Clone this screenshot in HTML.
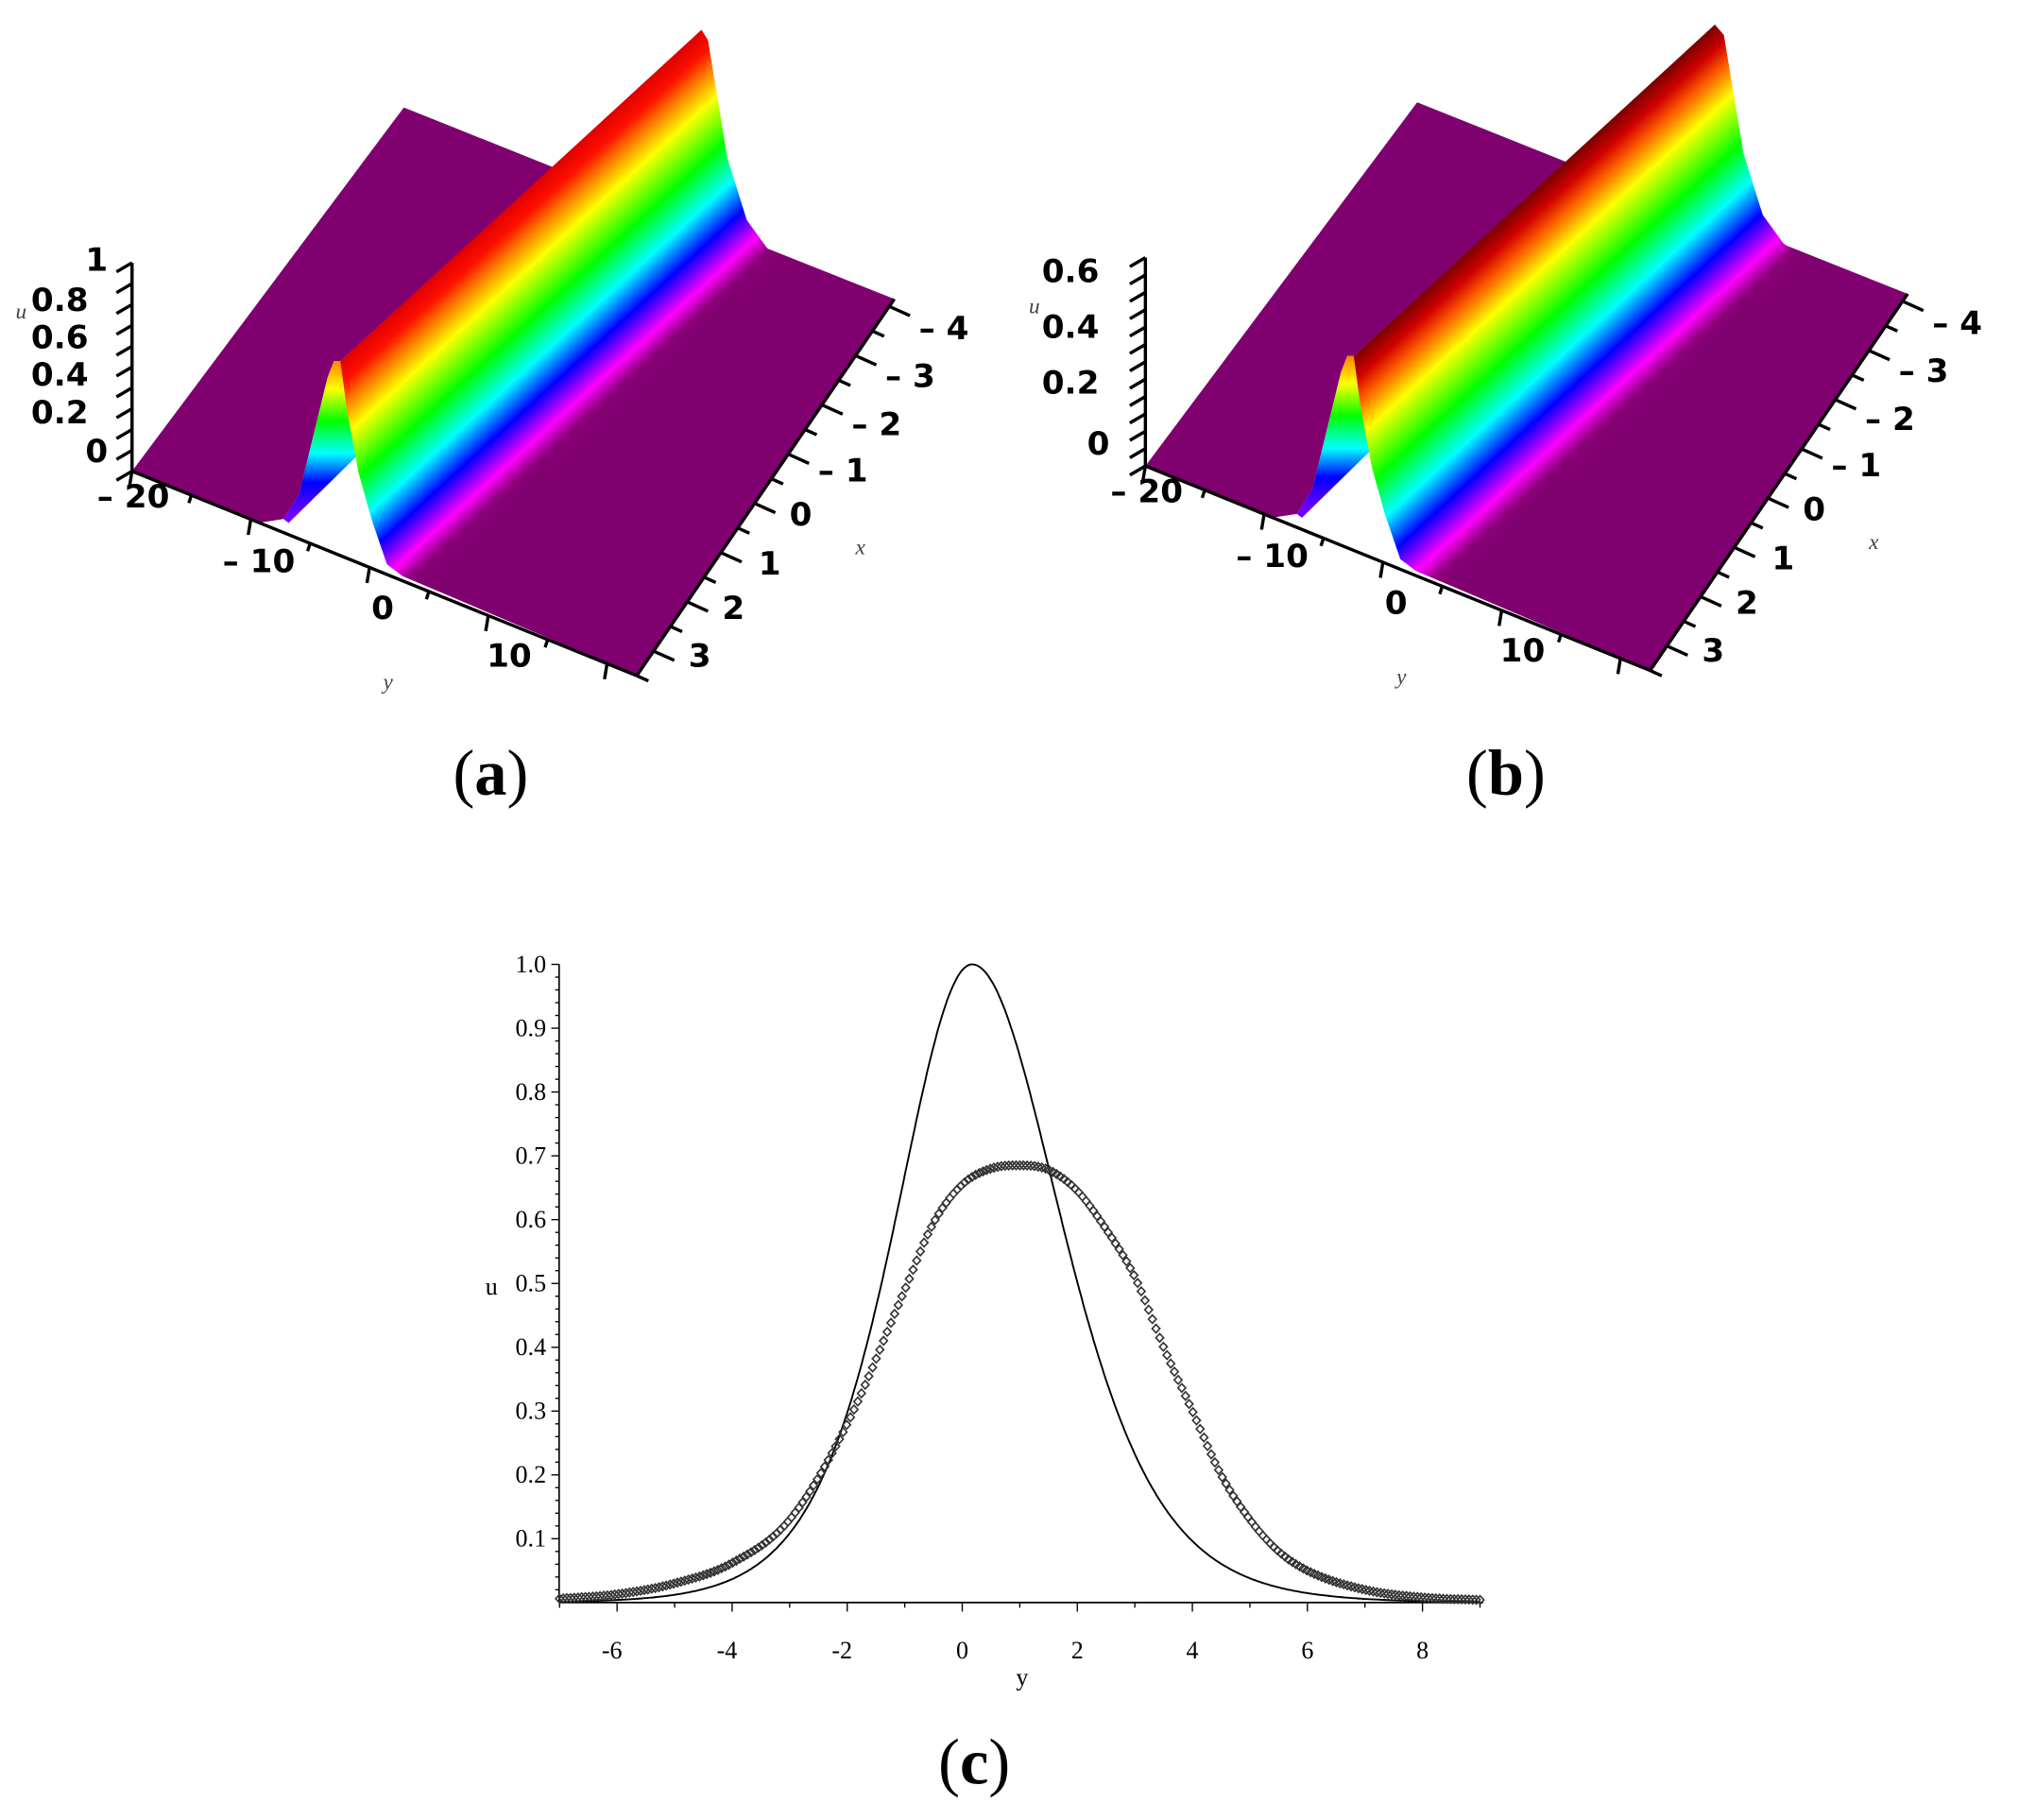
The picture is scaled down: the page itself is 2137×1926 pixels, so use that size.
<!DOCTYPE html>
<html><head><meta charset="utf-8">
<style>
html,body{margin:0;padding:0;background:#fff;}
svg{display:block;}
.tk{font-family:"DejaVu Sans","Liberation Sans",sans-serif;font-weight:bold;font-size:25px;fill:#000;}
.it{font-family:"Liberation Serif",serif;font-style:italic;font-size:17px;fill:#444;}
.cap{font-family:"Liberation Serif",serif;font-size:50px;fill:#000;}
.tm{font-family:"Liberation Serif",serif;font-size:19px;fill:#000;}
</style></head>
<body>
<svg id="s" width="2137" height="1926" viewBox="0 0 1560 1406" xmlns="http://www.w3.org/2000/svg">
<defs>
<linearGradient id="ga" gradientUnits="userSpaceOnUse" x1="263" y1="279" x2="379" y2="406">
<stop offset="0" stop-color="#e00000"/><stop offset="0.08" stop-color="#ff1000"/>
<stop offset="0.16" stop-color="#ff8000"/><stop offset="0.26" stop-color="#ffff00"/>
<stop offset="0.44" stop-color="#00ff00"/><stop offset="0.59" stop-color="#00ffff"/>
<stop offset="0.72" stop-color="#0000ff"/><stop offset="0.85" stop-color="#ff00ff"/>
<stop offset="0.93" stop-color="#8a0078"/><stop offset="1" stop-color="#800070"/>
</linearGradient>
<linearGradient id="gb" gradientUnits="userSpaceOnUse" x1="263" y1="279" x2="385" y2="412">
<stop offset="0" stop-color="#7a0000"/><stop offset="0.08" stop-color="#d00000"/>
<stop offset="0.16" stop-color="#ff6000"/><stop offset="0.27" stop-color="#ffff00"/>
<stop offset="0.45" stop-color="#00ff00"/><stop offset="0.6" stop-color="#00ffff"/>
<stop offset="0.73" stop-color="#0000ff"/><stop offset="0.86" stop-color="#ff00ff"/>
<stop offset="0.94" stop-color="#8a0078"/><stop offset="1" stop-color="#800070"/>
</linearGradient>
<linearGradient id="gl" gradientUnits="userSpaceOnUse" x1="0" y1="279" x2="0" y2="404">
<stop offset="0" stop-color="#ff8000"/><stop offset="0.17" stop-color="#ffff00"/>
<stop offset="0.37" stop-color="#00ff00"/><stop offset="0.57" stop-color="#00ffff"/>
<stop offset="0.75" stop-color="#0000ff"/><stop offset="0.95" stop-color="#7000ff"/>
</linearGradient>
<g id="surf">
<polygon fill="#800070" points="312,83 427,129 263,279 258,279 253,292 243,333 231,382 219,401 199.5,404 102,364"/>
<polygon fill="url(#gl)" points="258,279 263,279 268,300 275,353 223,404 219,401 231,382 243,333 253,292"/>
<polygon fill="#800070" points="311,445 492,522 691,231 593,192"/>
</g>
</defs>

<g>
<use href="#surf"/>
<polygon fill="url(#ga)" points="263,279 542,23 547,31 562,122 577,170 593,192 620,210 400,482 311,445 299,436 287,401 277,365 268,316"/>
</g>
<g transform="translate(783,-4)">
<use href="#surf"/>
<polygon fill="url(#gb)" points="263,279 542,23 549,31 564,122 579,170 595,192 620,210 400,482 311,445 299,436 287,401 277,365 268,316"/>
</g>

<g id="axes" stroke="#000" stroke-width="2.5" fill="none"></g>
<g id="lab"></g>

<text class="cap" x="350" y="614">(<tspan font-weight="bold">a</tspan>)</text>
<text class="cap" x="1133" y="614">(<tspan font-weight="bold">b</tspan>)</text>
<text class="cap" x="725" y="1378">(<tspan font-weight="bold">c</tspan>)</text>

<g id="pc"></g>
</svg>
<script>
const NS="http://www.w3.org/2000/svg";
function el(p,t,a,txt){const e=document.createElementNS(NS,t);for(const k in a)e.setAttribute(k,a[k]);if(txt!=null)e.textContent=txt;p.appendChild(e);return e;}
const ax=document.getElementById('axes'), lab=document.getElementById('lab');
function axes3d(dx,dy,zl,zmax){
  el(ax,'line',{x1:102+dx,y1:364+dy,x2:102+dx,y2:203+dy});
  const n=Math.round(zmax*10);
  for(let i=0;i<=n*(zmax<0.7?2:1);i++){
    const f=i/(n*(zmax<0.7?2:1)); const y=364+dy-f*161;
    el(ax,'line',{x1:102+dx,y1:y,x2:90+dx,y2:y+7,'stroke-width':2.5});
  }
  el(ax,'line',{x1:102+dx,y1:364+dy,x2:492+dx,y2:522+dy});
  for(let i=0;i<=8;i++){const t=i/8.5;const x=102+dx+t*390,y=364+dy+t*158;
    el(ax,'line',{x1:x,y1:y,x2:x-2,y2:y+(i%2==0?12:6)});}
  el(ax,'line',{x1:492+dx,y1:522+dy,x2:691+dx,y2:231+dy});
  for(let i=0;i<=15;i++){const t=i/15.3;const x=492+dx+t*199,y=522+dy-t*291;
    const L=(i%2==1)?16:9; el(ax,'line',{x1:x,y1:y,x2:x+L,y2:y+L*0.45});}
  const T=(x,y,s,c)=>el(lab,'text',{x:x+dx,y:y+dy,class:c||'tk'},s);
  zl.forEach(z=>T(z[0],z[1],z[2]));
  T(75,392,'– 20');T(172,442,'– 10');T(287,478,'0');T(376,515,'10');
  T(710,262,'– 4');T(684,299,'– 3');T(658,336,'– 2');T(632,372,'– 1');T(610,406,'0');T(586,444,'1');T(558,478,'2');T(532,515,'3');
  T(296,532,'y','it');T(661,428,'x','it');T(12,246,'u','it');
}
axes3d(0,0,[[66,209,'1'],[24,240,'0.8'],[24,269,'0.6'],[24,298,'0.4'],[24,327,'0.2'],[66,357,'0']],1);
axes3d(783,-4,[[22,222,'0.6'],[22,265,'0.4'],[22,308,'0.2'],[57,355,'0']],0.6);

const pc=document.getElementById('pc');
const X0=432,XR=1146,Y0=1238,SU=493;
const px=y=>743.5+44.45*y, py=u=>Y0-SU*u;
el(pc,'line',{x1:X0,y1:745,x2:X0,y2:Y0,stroke:'#000','stroke-width':1.2});
el(pc,'line',{x1:X0,y1:Y0,x2:XR,y2:Y0,stroke:'#000','stroke-width':1.2});
for(let i=1;i<=50;i++){const y=py(i/50);el(pc,'line',{x1:X0,y1:y,x2:X0-(i%5==0?6:3),y2:y,stroke:'#000','stroke-width':1});}
for(let k=-7;k<=9;k++){const x=px(k);el(pc,'line',{x1:x,y1:Y0,x2:x,y2:Y0+(k%2==0?7:4),stroke:'#000','stroke-width':1});}
for(let i=1;i<=10;i++){el(pc,'text',{x:X0-10,y:py(i/10)+6,'text-anchor':'end',class:'tm'},(i/10).toFixed(1));}
for(let k=-6;k<=8;k+=2){el(pc,'text',{x:px(k)+(k<0?-4:0),y:1281,'text-anchor':'middle',class:'tm'},(k<0?'-':'')+Math.abs(k));}
el(pc,'text',{x:375,y:1000,class:'tm'},'u');
el(pc,'text',{x:785,y:1302,class:'tm',fill:'#333'},'y');
function mono(tab){const n=tab.length,xs=tab.map(p=>p[0]),ys=tab.map(p=>p[1]);const d=[],m=[];
 for(let i=0;i<n-1;i++)d.push((ys[i+1]-ys[i])/(xs[i+1]-xs[i]));
 m[0]=d[0];m[n-1]=d[n-2];for(let i=1;i<n-1;i++){m[i]=(d[i-1]*d[i]<=0)?0:(d[i-1]+d[i])/2;}
 for(let i=0;i<n-1;i++){if(d[i]==0){m[i]=m[i+1]=0;continue;}const a=m[i]/d[i],b=m[i+1]/d[i],s=a*a+b*b;if(s>9){const t=3/Math.sqrt(s);m[i]=t*a*d[i];m[i+1]=t*b*d[i];}}
 return x=>{if(x<=xs[0])return ys[0];if(x>=xs[n-1])return ys[n-1];let i=0;while(x>xs[i+1])i++;const h=xs[i+1]-xs[i],t=(x-xs[i])/h;const h00=2*t*t*t-3*t*t+1,h10=t*t*t-2*t*t+t,h01=-2*t*t*t+3*t*t,h11=t*t*t-t*t;return h00*ys[i]+h10*h*m[i]+h01*ys[i+1]+h11*h*m[i+1];};}
let d='';
for(let y=-7;y<=9.001;y+=0.02){const dd=y-0.17;const c=Math.cosh((dd<0?0.56:0.48)*dd);const u=1/(c*c);d+=(d?'L':'M')+px(y).toFixed(1)+','+py(u).toFixed(1);}
el(pc,'path',{d:d,fill:'none',stroke:'#000','stroke-width':1.4});
const fd=mono([[-7,0.006],[-6,0.013],[-5,0.03],[-4,0.062],[-3,0.13],[-2,0.28],[-1,0.49],[-0.5,0.595],[0,0.655],[0.5,0.68],[1,0.685],[1.5,0.678],[2,0.645],[2.5,0.585],[3,0.51],[3.5,0.4],[4,0.3],[4.5,0.2],[5,0.13],[5.5,0.08],[6,0.05],[7,0.02],[8,0.008],[9,0.004]]);
let m='';
for(let y=-7;y<=9.001;y+=0.064){const x=px(y),yy=py(fd(y));m+='M'+x.toFixed(1)+','+(yy-3.2).toFixed(1)+'l3,3.2l-3,3.2l-3,-3.2z';}
el(pc,'path',{d:m,fill:'none',stroke:'#333','stroke-width':1.2});
</script>
</body></html>
